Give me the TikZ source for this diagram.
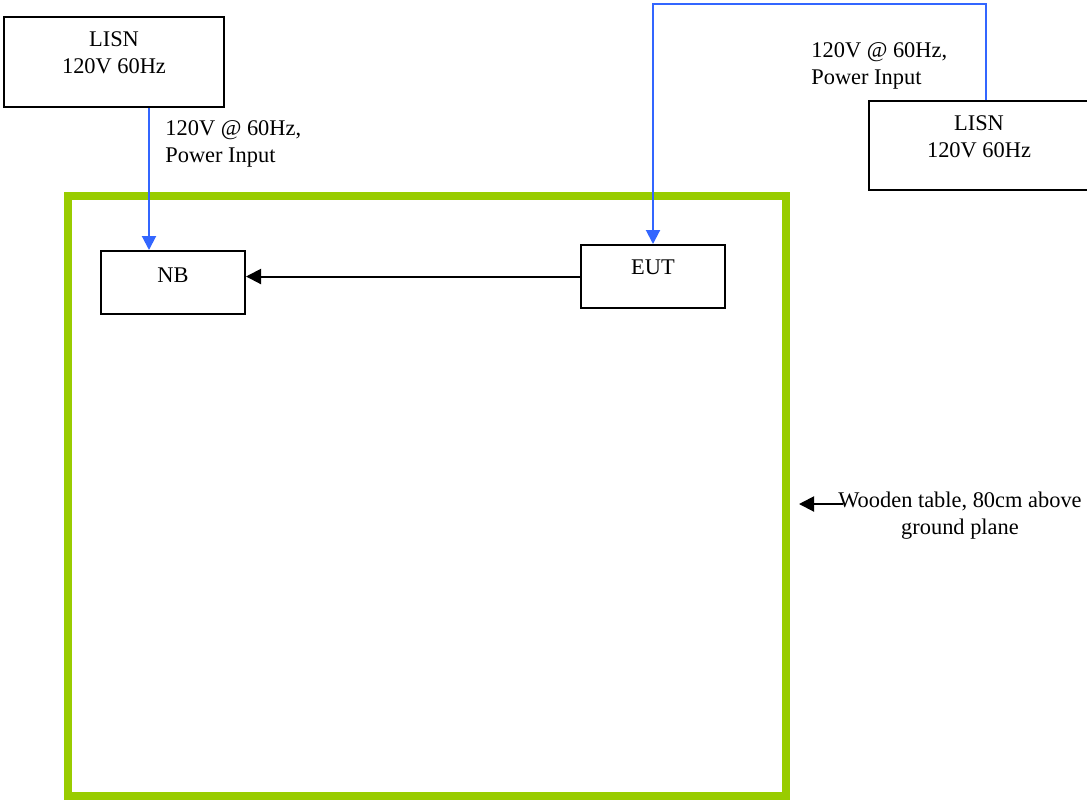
\documentclass[tikz,border=0pt]{standalone}
\usepackage{fontspec}
\setmainfont{Liberation Serif}
\usetikzlibrary{positioning, arrows.meta, calc}
\definecolor{tablegreen}{HTML}{99CC00}
\definecolor{powerblue}{HTML}{3366FF}

\begin{document}
\begin{tikzpicture}[
  x=0.5pt, y=-0.5pt,
  every node/.style={font=\fontsize{11.2pt}{13.5pt}\selectfont},
  box/.style   = {draw, line width=1pt, inner sep=0pt, anchor=north west},
  txt/.style   = {align=center, inner sep=0pt},
  note/.style  = {align=left, inner sep=0pt, anchor=north west},
  power/.style = {-{Triangle[length=7pt, width=7pt]}, line width=1pt, powerblue},
  sig/.style   = {-{Triangle[length=7.5pt, width=7.5pt]}, line width=1pt},
]
  \useasboundingbox (0,0) rectangle (1087,800);
  % wooden table
  \node[draw=tablegreen, line width=4pt, inner sep=0pt, minimum width=359pt, minimum height=300pt] (table) at (427,496) {};
  \node[txt, anchor=north] (wood) at (960,492) {Wooden table, 80cm above\\ground plane};
  \coordinate (woodarrow) at (843,504);
  \draw[sig, shorten >=4.5pt] (woodarrow) -- (woodarrow -| table.east);
  % boxes
  \node[box, minimum width=110pt, minimum height=45pt]   (lisnA) at (3,16) {};
  \node[box, minimum width=110pt, minimum height=44.5pt] (lisnB) at (868,100) {};
  \node[box, minimum width=72pt, minimum height=31.5pt]  (nb)    at (100,250) {};
  \node[box, minimum width=72pt, minimum height=31.5pt]  (eut)   at (580,244) {};
  \node[txt, anchor=north] (lisnAtext) at ([yshift=-7.5pt]lisnA.north) {LISN\\120V 60Hz};
  \node[txt, anchor=north] (lisnBtext) at ([yshift=-7.5pt]lisnB.north) {LISN\\120V 60Hz};
  \node[txt, anchor=base]  (nbtext)    at ([yshift=-16pt]nb.north) {NB};
  \node[txt, anchor=base]  (euttext)   at ([yshift=-15pt]eut.north) {EUT};
  % power feeds
  \node[note] (feedA) at (165,120) {120V @ 60Hz,\\Power Input};
  \node[note] (feedB) at (811,42)  {120V @ 60Hz,\\Power Input};
  \draw[power] ([xshift=17.5pt]lisnA.south) -- ([xshift=-12pt]nb.north);
  \draw[power] ([xshift=3.5pt]lisnB.north) -- ++(0,-96) -| (eut.north);
  \draw[sig] (eut.west) -- (eut.west -| nb.east);
\end{tikzpicture}
\end{document}
